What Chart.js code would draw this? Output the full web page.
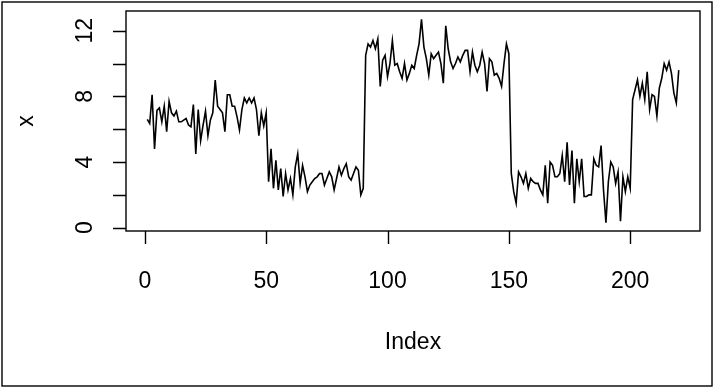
<!DOCTYPE html>
<html>
<head>
<meta charset="utf-8">
<script src="https://cdn.jsdelivr.net/npm/chart.js@4.4.1/dist/chart.umd.min.js"></script>
<style>
  html, body { margin: 0; padding: 0; background: #fff; }
  #wrap { width: 714px; height: 388px; }
</style>
</head>
<body>
<div id="wrap"><canvas id="c" width="714" height="388"></canvas></div>
<script>
// series x, index 1..220
const seg1 = [6.6, 6.35, 8.1, 4.8, 7.15, 7.3, 6.45, 7.4, 5.85, 7.7, 7.0, 6.8, 7.1, 6.45, 6.45, 6.55, 6.65, 6.25, 6.15, 7.5,
  4.5, 7.2, 5.3, 6.25, 7.1, 5.6, 6.55, 7.0, 9.0, 7.4, 7.2, 7.0, 5.85, 8.1, 8.1, 7.4, 7.4, 6.75, 5.95, 7.2,
  7.9, 7.6, 7.9, 7.6, 7.9, 7.2, 5.6, 7.0, 6.2, 7.0];
const seg2 = [2.8, 4.8, 2.4, 4.1, 2.3, 3.6, 1.9, 3.3, 2.3, 3.0, 2.0, 3.7, 4.5, 2.7, 3.8, 3.1, 2.2, 2.6, 2.8, 3.0,
  3.1, 3.3, 3.3, 2.6, 3.0, 3.4, 3.1, 2.3, 3.0, 3.7, 3.2, 3.6, 3.9, 3.1, 2.9, 3.3, 3.7, 3.5, 2.0, 2.4];
const seg3 = [10.5, 11.2, 11.0, 11.4, 10.9, 11.5, 8.6, 10.2, 10.5, 9.2, 10.0, 11.4, 9.9, 10.0, 9.5, 9.1, 10.0, 9.0, 9.4, 9.9,
  9.7, 10.5, 11.2, 12.7, 11.0, 10.3, 9.3, 10.6, 10.3, 10.5, 10.7, 10.0, 8.8, 12.3, 10.9, 10.1, 9.7, 10.0, 10.4, 10.1,
  10.5, 10.8, 10.8, 9.5, 10.7, 9.9, 9.5, 9.9, 10.7, 10.0, 8.3, 10.3, 10.1, 9.3, 9.4, 9.1, 8.6, 10.0, 11.2, 10.6];
const seg4 = [3.3, 2.2, 1.5, 3.4, 3.1, 2.7, 3.3, 2.4, 3.0, 2.8, 2.7, 2.7, 2.3, 2.0, 3.8, 1.5, 4.0, 3.8, 3.1, 3.1,
  3.3, 4.4, 2.8, 5.2, 2.6, 4.7, 1.5, 4.2, 2.8, 4.2, 1.9, 1.9, 2.0, 2.0, 4.2, 3.8, 3.7, 5.0, 2.3, 0.3,
  2.8, 4.0, 3.7, 2.7, 3.4, 0.4, 3.1, 2.2, 3.1, 2.4];
const seg5 = [7.8, 8.4, 9.0, 8.0, 8.8, 7.8, 9.5, 7.2, 8.1, 8.0, 6.8, 8.5, 9.1, 10.0, 9.6, 10.1, 9.4, 8.2, 7.6, 9.6];

const xs = [...seg1, ...seg2, ...seg3, ...seg4, ...seg5];
const idx = xs.map((_, i) => i + 1);

const xTicks = [0, 50, 100, 150, 200];
const yTicks = [0, 2, 4, 6, 8, 10, 12];
const yLabels = [0, 4, 8, 12];

const FONT = '23px "Liberation Sans", Arial, sans-serif';
const TICK = 13;

const rFrame = {
  id: 'rFrame',
  afterDraw(chart) {
    const { ctx, chartArea: a, scales: { x, y } } = chart;
    ctx.save();
    ctx.strokeStyle = '#000';
    ctx.fillStyle = '#000';
    ctx.lineWidth = 1.4;
    // outer border of the figure
    ctx.strokeRect(2, 2, chart.width - 4, chart.height - 4);
    // plot box
    ctx.strokeRect(a.left, a.top, a.right - a.left, a.bottom - a.top);

    ctx.beginPath();
    for (const t of xTicks) {
      const px = Math.round(x.getPixelForValue(t)) + 0.5;
      ctx.moveTo(px, a.bottom);
      ctx.lineTo(px, a.bottom + TICK);
    }
    for (const t of yTicks) {
      const py = Math.round(y.getPixelForValue(t)) + 0.5;
      ctx.moveTo(a.left, py);
      ctx.lineTo(a.left - TICK, py);
    }
    ctx.stroke();

    ctx.font = FONT;
    ctx.textAlign = 'center';
    ctx.textBaseline = 'alphabetic';
    for (const t of xTicks) ctx.fillText(String(t), x.getPixelForValue(t), 288);
    ctx.fillText('Index', (a.left + a.right) / 2, 349);

    for (const t of yLabels) {
      ctx.save();
      ctx.translate(92, y.getPixelForValue(t));
      ctx.rotate(-Math.PI / 2);
      ctx.fillText(String(t), 0, 0);
      ctx.restore();
    }
    ctx.save();
    ctx.translate(33, (a.top + a.bottom) / 2);
    ctx.rotate(-Math.PI / 2);
    ctx.fillText('x', 0, 0);
    ctx.restore();
    ctx.restore();
  }
};

new Chart(document.getElementById('c'), {
  type: 'line',
  data: {
    datasets: [{
      data: idx.map((v, i) => ({ x: v, y: xs[i] })),
      borderColor: '#000',
      borderWidth: 1.6,
      pointRadius: 0,
      tension: 0,
      fill: false,
    }],
  },
  options: {
    responsive: false,
    animation: false,
    devicePixelRatio: 1,
    layout: { padding: { left: 126, right: 14, top: 11, bottom: 157 } },
    plugins: { legend: { display: false }, tooltip: { enabled: false } },
    scales: {
      x: { type: 'linear', min: -7.76, max: 228.76, display: false },
      y: { type: 'linear', min: -0.2, max: 13.2, display: false },
    },
  },
  plugins: [rFrame],
});
</script>
</body>
</html>
